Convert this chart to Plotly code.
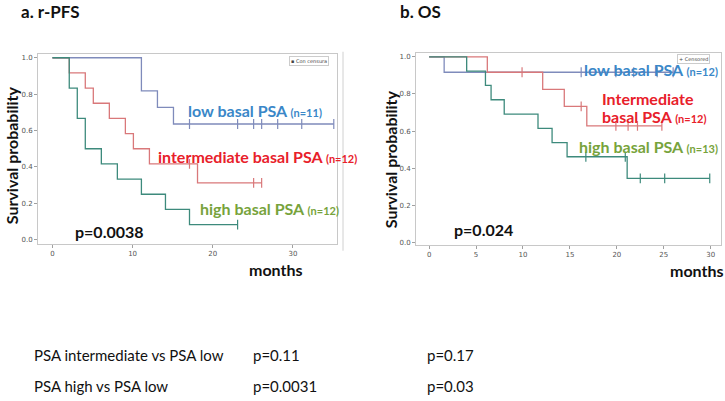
import plotly.graph_objects as go

# ---------------- data: a. r-PFS ----------------
pfs_low_t = [0, 11.1, 13.1, 15.1, 35.1]
pfs_low_s = [1.0, 0.818, 0.727, 0.636, 0.636]
pfs_low_c = [17.1, 23.1, 25.1, 26.1, 28.1, 31.1, 35.1]

pfs_int_t = [0, 2.1, 4.1, 5.1, 7.1, 9.1, 10.1, 12.1, 18.1, 26.1]
pfs_int_s = [1.0, 0.917, 0.833, 0.75, 0.667, 0.583, 0.5, 0.417, 0.313, 0.313]
pfs_int_c = [17.1, 25.1, 26.1]

pfs_high_t = [0, 2.1, 3.1, 4.1, 6.1, 8.1, 11.1, 14.1, 17.1, 23.1]
pfs_high_s = [1.0, 0.833, 0.667, 0.5, 0.417, 0.333, 0.25, 0.167, 0.083, 0.083]
pfs_high_c = [23.1]

# ---------------- data: b. OS ----------------
os_low_t = [0, 1.6, 26.0]
os_low_s = [1.0, 0.917, 0.917]
os_low_c = [16.2, 19.9, 21.8, 24.3, 26.0]

os_int_t = [0, 6.2, 12.1, 14.4, 16.8, 24.8]
os_int_s = [1.0, 0.917, 0.825, 0.733, 0.628, 0.628]
os_int_c = [9.9, 16.2, 19.9, 21.2, 22.2, 24.8]

os_high_t = [0, 4.0, 6.0, 6.6, 8.0, 11.6, 13.1, 14.7, 21.1, 29.9]
os_high_s = [1.0, 0.923, 0.846, 0.769, 0.692, 0.615, 0.538, 0.462, 0.346, 0.346]
os_high_c = [16.7, 20.9, 22.5, 25.1, 29.9]

y_ticks = [0.0, 0.2, 0.4, 0.6, 0.8, 1.0]
pfs_x_ticks = [0, 10, 20, 30]
os_x_ticks = [0, 5, 10, 15, 20, 25, 30]

C_LOW = "#7f8bbb"
C_INT = "#d9787a"
C_HIGH = "#3d8a7c"
T_LOW = "#3a87c8"
T_INT = "#e8202a"
T_HIGH = "#77a33c"
FONT = "Lato"


def surv_at(ts, ss, t):
    v = ss[0]
    for ti, si in zip(ts, ss):
        if ti <= t:
            v = si
    return v


fig = go.Figure()


def add_curve(ts, ss, cs, color, xa, ya):
    fig.add_trace(go.Scatter(x=ts, y=ss, mode="lines", line=dict(color=color, width=1.3, shape="hv"),
                             xaxis=xa, yaxis=ya, showlegend=False, hoverinfo="skip"))
    fig.add_trace(go.Scatter(x=cs, y=[surv_at(ts, ss, c) for c in cs], mode="markers",
                             marker=dict(symbol="line-ns", size=7, line=dict(color=color, width=1.2)),
                             xaxis=xa, yaxis=ya, showlegend=False, hoverinfo="skip"))


add_curve(pfs_low_t, pfs_low_s, pfs_low_c, C_LOW, "x", "y")
add_curve(pfs_int_t, pfs_int_s, pfs_int_c, C_INT, "x", "y")
add_curve(pfs_high_t, pfs_high_s, pfs_high_c, C_HIGH, "x", "y")
add_curve(os_low_t, os_low_s, os_low_c, C_LOW, "x2", "y2")
add_curve(os_int_t, os_int_s, os_int_c, C_INT, "x2", "y2")
add_curve(os_high_t, os_high_s, os_high_c, C_HIGH, "x2", "y2")

W, H = 725, 401


def px(x):
    return x / W


def py(y):
    return 1 - y / H


axis_common = dict(showgrid=False, zeroline=False, showline=True, mirror=True, linecolor="#c8c8c8",
                   linewidth=1, ticks="outside", ticklen=3, tickcolor="#a0a0a0",
                   tickfont=dict(family="DejaVu Sans", size=7, color="#555555"))

fig.update_layout(
    width=W, height=H, margin=dict(l=0, r=0, t=0, b=0),
    paper_bgcolor="white", plot_bgcolor="white", showlegend=False,
    xaxis=dict(domain=[px(38), px(337)], range=[-1.8, 35.5], anchor="y",
               tickvals=pfs_x_ticks, ticktext=[str(v) for v in pfs_x_ticks], **axis_common),
    yaxis=dict(domain=[py(245), py(54)], range=[-0.022, 1.022], anchor="x",
               tickvals=y_ticks, ticktext=["%.1f" % v for v in y_ticks], **axis_common),
    xaxis2=dict(domain=[px(416), px(721)], range=[-1.4, 31.1], anchor="y2",
                tickvals=os_x_ticks, ticktext=[str(v) for v in os_x_ticks], **axis_common),
    yaxis2=dict(domain=[py(246), py(53)], range=[-0.012, 1.022], anchor="x2",
                tickvals=y_ticks, ticktext=["%.1f" % v for v in y_ticks], **axis_common),
)


def ann(text, x, y, size, color="#111111", xanchor="left", yanchor="middle", bold=True, angle=0):
    t = "<b>%s</b>" % text if bold else text
    fig.add_annotation(text=t, x=px(x), y=py(y), xref="paper", yref="paper", showarrow=False,
                       xanchor=xanchor, yanchor=yanchor, textangle=angle,
                       font=dict(family=FONT, size=size, color=color))


# titles
ann("a. r-PFS", 19, 12, 17)
ann("b. OS", 398, 12, 17)
# y titles
ann("Survival probability", 11, 156, 16, xanchor="center", angle=-90)
ann("Survival probability", 390, 160, 16, xanchor="center", angle=-90)
# months
ann("months", 276, 271, 16, xanchor="center")
ann("months", 697, 272, 16, xanchor="center")
# p-values
ann("p=0.0038", 73, 233, 16)
ann("p=0.024", 452, 231, 16)

small = "<span style='font-size:11px'>%s</span>"
# left labels
ann("low basal PSA " + small % "(n=11)", 186, 111, 16, T_LOW)
ann("intermediate basal PSA " + small % "(n=12)", 156, 157, 16, T_INT)
ann("high basal PSA " + small % "(n=12)", 198, 210, 16, T_HIGH)
# right labels
ann("low basal PSA " + small % "(n=12)", 582, 70, 16, T_LOW)
ann("Intermediate", 600, 99, 16, T_INT)
ann("basal PSA " + small % "(n=12)", 600, 117, 16, T_INT)
ann("high basal PSA " + small % "(n=13)", 577, 147, 16, T_HIGH)

# censor legend boxes
fig.add_annotation(text="▪ Con censura", x=px(289), y=py(61), xref="paper", yref="paper", showarrow=False,
                   xanchor="left", yanchor="middle", font=dict(family="DejaVu Sans", size=5, color="#444444"),
                   bordercolor="#cccccc", borderwidth=1, borderpad=1, bgcolor="white")
fig.add_annotation(text="+ Censored", x=px(677), y=py(59), xref="paper", yref="paper", showarrow=False,
                   xanchor="left", yanchor="middle", font=dict(family="DejaVu Sans", size=5, color="#444444"),
                   bordercolor="#cccccc", borderwidth=1, borderpad=1, bgcolor="white")

# outer panel line of left chart
fig.add_shape(type="line", xref="paper", yref="paper", x0=px(343), x1=px(343), y0=py(52), y1=py(252),
              line=dict(color="#d0d0d0", width=1))

# bottom table
rows = ["PSA intermediate vs PSA low", "PSA high vs PSA low"]
pfs_p = ["p=0.11", "p=0.0031"]
os_p = ["p=0.17", "p=0.03"]
row_y = [357, 388]
for r, a, b, yy in zip(rows, pfs_p, os_p, row_y):
    ann(r, 32, yy, 15, "#111111", bold=False)
    ann(a, 251, yy, 15, "#111111", bold=False)
    ann(b, 425, yy, 15, "#111111", bold=False)

fig.write_html("out.html", config={"displayModeBar": False},
               post_script="document.body.style.margin='0';document.body.style.overflow='hidden';")
